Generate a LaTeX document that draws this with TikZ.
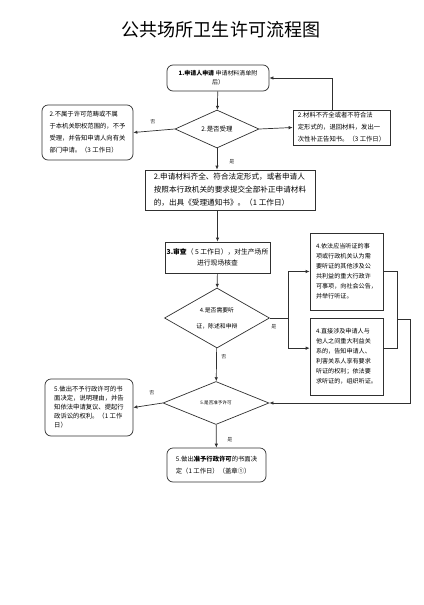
\documentclass[tikz,border=0pt]{standalone}
\usepackage{fontspec}
\setmainfont{Noto Sans CJK SC}
\usepackage{xcolor}
\usetikzlibrary{shapes.geometric,arrows.meta}
\newlength\px \setlength\px{0.03cm}
\newcommand{\fsz}[2]{\fontsize{#1}{#2}\selectfont}
\definecolor{linec}{HTML}{303030}
\tikzset{
  box/.style={draw=linec, line width=0.6pt, align=left, inner sep=0.03cm},
  rbox/.style={box, rounded corners=0.18cm},
  decide/.style={diamond, draw=linec, line width=0.6pt, align=center, inner sep=0pt, aspect=2},
  arr/.style={-{Latex[length=0.12cm,width=0.105cm]}, draw=linec, line width=0.6pt},
  lbl/.style={font=\fsz{4.3pt}{5pt}, text=linec}
}
\begin{document}
\begin{tikzpicture}[x=0.03cm, y=-0.03cm]
    \useasboundingbox (0,0) rectangle (424,605);
    % Title
    \node[font=\fsz{15.4pt}{17pt}] (title) at (221,30) {公共场所卫生许可流程图};
    % Application and acceptance
    \node[rbox, align=center, minimum width=102\px, minimum height=26\px, font=\fsz{5.1pt}{7.3pt}] (b1) at (218,78)
        {\textbf{1.申请人申请}\ 申请材料清单附\\后）};
    \node[decide, minimum width=84\px, minimum height=38\px, font=\fsz{5.5pt}{6pt}] (d2) at (217,129) {2.是否受理};
    \node[rbox, minimum width=91\px, minimum height=55\px, font=\fsz{5.4pt}{10.2pt}] (b2l) at (87.5,132.5)
        {2.不属于许可范畴或不属\\于本机关职权范围的，不予\\受理，并告知申请人向有关\\部门申请。（3 工作日）};
    \node[box, minimum width=97\px, minimum height=35\px, font=\fsz{5.4pt}{10.2pt}] (b2r) at (341.5,127.5)
        {2.材料不齐全或者不符合法\\定形式的，退回材料，发出一\\次性补正告知书。（3 工作日）};
    \node[box, minimum width=170\px, minimum height=40\px, font=\fsz{6.5pt}{11.1pt}] (b3) at (230,190)
        {2.申请材料齐全、符合法定形式，或者申请人\\按照本行政机关的要求提交全部补正申请材料\\的，出具《受理通知书》。（1 工作日）};
    % Review and hearing
    \node[box, align=center, minimum width=105\px, minimum height=31\px, font=\fsz{5.8pt}{9.4pt}] (b4) at (217.5,257.5)
        {\textbf{3.审查}（ 5 工作日），对生产场所\\进行现场核查};
    \node[decide, minimum width=105\px, minimum height=60\px, font=\fsz{5pt}{13.6pt}] (d4) at (217,318)
        {4.是否需要听\\证，陈述和申辩};
    \node[box, minimum width=73\px, minimum height=77\px, font=\fsz{5.2pt}{8.5pt}] (b4a) at (346.5,271.5)
        {4.依法应当听证的事\\项或行政机关认为需\\要听证的其他涉及公\\共利益的重大行政许\\可事项，向社会公告，\\并举行听证。};
    \node[box, minimum width=73\px, minimum height=77\px, font=\fsz{5.2pt}{8.5pt}] (b4b) at (346.5,356.5)
        {4.直接涉及申请人与\\他人之间重大利益关\\系的，告知申请人、\\利害关系人享有要求\\听证的权利；依法要\\求听证的，组织听证。};
    % Decision
    \node[decide, minimum width=106\px, minimum height=43\px, font=\fsz{3.9pt}{4.5pt}] (d5) at (216,403) {5.是否准予许可};
    \node[rbox, minimum width=88\px, minimum height=57\px, font=\fsz{5.4pt}{7.7pt}] (b5l) at (89,407.5)
        {5.做出不予行政许可的书\\面决定，说明理由，并告\\知依法申请复议、提起行\\政诉讼的权利。（1 工作\\日）};
    \node[rbox, minimum width=99\px, minimum height=34\px, font=\fsz{5.4pt}{10.2pt}] (b5) at (216.5,465)
        {5.做出\textbf{准予行政许可}的书面决\\定（1 工作日）（盖章①）};
    % Joints
    \coordinate (j4) at (288,318);
    \coordinate (jb) at (397,348);
    \coordinate (jm) at (397,319);
    \coordinate (jr) at (410,319);
    % Connectors
    \draw[arr] (b1) -- (d2);
    \draw[arr] (d2.west) -- (b2l.east);
    \draw[arr] (d2.east) -- (b2r.west);
    \draw[arr] ([xshift=-0.28cm]b2r.north) |- (b1.east);
    \draw[arr] (d2.south) -- (d2.south |- b3.north);
    \draw[arr] (b4.north |- b3.south) -- (b4.north);
    \draw[arr] (b4) -- (d4);
    \draw[draw=linec, line width=0.6pt] (d4.east) -- (j4);
    \draw[arr] (j4) |- (b4a.west);
    \draw[arr] (j4) |- ([yshift=0.25cm]b4b.west);
    \draw[draw=linec, line width=0.6pt] (b4a.east) -| (jb) -- (jb -| b4b.east);
    \draw[arr] (jm) -- (jr) |- (d5.east);
    \draw[arr] (d4) -- (d5);
    \draw[arr] (d5.west) -- (b5l.east);
    \draw[arr] (d5) -- (b5);
    % Labels
    \node[lbl] (no2) at (153,122) {否};
    \node[lbl] (yes2) at (232,162) {是};
    \node[lbl] (yes4) at (274,327) {是};
    \node[lbl] (no4) at (224,357) {否};
    \node[lbl] (no5) at (152,393) {否};
    \node[lbl] (yes5) at (230,440) {是};
\end{tikzpicture}
\end{document}
